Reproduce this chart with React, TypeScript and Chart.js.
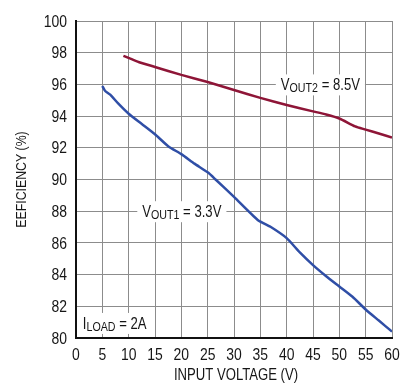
import React, { useEffect, useRef } from "react";
import { Chart, registerables } from "chart.js";

Chart.register(...registerables);

const vout1X = [5, 5.5, 6.5, 8, 10, 12.5, 15, 17.5, 20, 22.5, 25, 26.5, 30, 34.5, 37, 40, 42.5, 45, 47.5, 50, 52.5, 55, 57.5, 60];
const vout1Y = [95.9, 95.6, 95.35, 94.8, 94.15, 93.5, 92.85, 92.1, 91.6, 91.0, 90.45, 90.0, 88.9, 87.45, 87.0, 86.3, 85.4, 84.6, 83.9, 83.25, 82.6, 81.8, 81.1, 80.4];
const vout2X = [9, 12, 15, 20, 25, 30, 35, 40, 45, 47.5, 50, 53, 55, 57.5, 60];
const vout2Y = [97.8, 97.4, 97.1, 96.6, 96.15, 95.65, 95.15, 94.7, 94.3, 94.1, 93.85, 93.35, 93.15, 92.9, 92.65];

const xTicks = [0, 5, 10, 15, 20, 25, 30, 35, 40, 45, 50, 55, 60];
const yTicks = [80, 82, 84, 86, 88, 90, 92, 94, 96, 98, 100];

const xTitle = "INPUT VOLTAGE (V)";
const yTitle = "EEFICIENCY (%)";

// annotation labels: [main, sub, rest, anchor x, anchor y, align]
const labels: [string, string, string, number, number, string][] = [
  ["V", "OUT1", " = 3.3V", 20.1, 88, "center"],
  ["V", "OUT2", " = 8.5V", 46.4, 96, "center"],
  ["I", "LOAD", " = 2A", 1.3, 80.95, "left"],
];

const FONT = '"Liberation Sans", Arial, sans-serif';
const SX = 0.82; // horizontal condensing to mimic a narrow face
const INK = "#161616";

function condensed(ctx: any, text: string, x: number, y: number, font: string, align: string, baseline: string) {
  ctx.save();
  ctx.font = font;
  ctx.textAlign = align;
  ctx.textBaseline = baseline;
  ctx.translate(x, y);
  ctx.scale(SX, 1);
  ctx.fillText(text, 0, 0);
  ctx.restore();
}

const axisTextPlugin = {
  id: "axisText",
  afterDraw(chart: any) {
    const ctx = chart.ctx;
    const xs = chart.scales.x;
    const ys = chart.scales.y;
    const area = chart.chartArea;
    ctx.save();
    ctx.fillStyle = INK;
    const tickFont = `17px ${FONT}`;
    for (const v of xTicks) {
      condensed(ctx, String(v), xs.getPixelForValue(v), area.bottom + 17, tickFont, "center", "middle");
    }
    for (const v of yTicks) {
      condensed(ctx, String(v), area.left - 9, ys.getPixelForValue(v) + 1, tickFont, "right", "middle");
    }
    condensed(ctx, xTitle, (area.left + area.right) / 2 + 2, area.bottom + 38, `16px ${FONT}`, "center", "middle");
    ctx.save();
    ctx.translate(22, (area.top + area.bottom) / 2);
    ctx.rotate(-Math.PI / 2);
    condensed(ctx, yTitle, 0, 0, `15px ${FONT}`, "center", "middle");
    ctx.restore();
    ctx.restore();
  },
};

const labelPlugin = {
  id: "labels",
  afterDatasetsDraw(chart: any) {
    const ctx = chart.ctx;
    const xs = chart.scales.x;
    const ys = chart.scales.y;
    ctx.save();
    for (const [m, s, r, lx, ly, align] of labels) {
      const mainFont = `16px ${FONT}`;
      const subFont = `13px ${FONT}`;
      ctx.font = mainFont;
      const wm = ctx.measureText(m).width * SX;
      const wr = ctx.measureText(r).width * SX;
      ctx.font = subFont;
      const ws = ctx.measureText(s).width * SX;
      const total = wm + ws + wr;
      const px = xs.getPixelForValue(lx);
      const py = ys.getPixelForValue(ly);
      const left = align === "center" ? px - total / 2 : px;
      ctx.fillStyle = "#fff";
      ctx.fillRect(left - 5, py - 10, total + 10, 21);
      ctx.fillStyle = INK;
      const base = py + 6;
      condensed(ctx, m, left, base, mainFont, "left", "alphabetic");
      condensed(ctx, s, left + wm, base + 2, subFont, "left", "alphabetic");
      condensed(ctx, r, left + wm + ws, base, mainFont, "left", "alphabetic");
    }
    ctx.restore();
  },
};

export default function App() {
  const ref = useRef<HTMLCanvasElement>(null);
  useEffect(() => {
    if (!ref.current) return;
    const chart = new Chart(ref.current, {
      type: "line",
      data: {
        datasets: [
          {
            label: "VOUT2 = 8.5V",
            data: vout2X.map((x, i) => ({ x, y: vout2Y[i] })),
            borderColor: "#8e1537",
            borderWidth: 2.5,
            pointRadius: 0,
            tension: 0.2,
          },
          {
            label: "VOUT1 = 3.3V",
            data: vout1X.map((x, i) => ({ x, y: vout1Y[i] })),
            borderColor: "#2f4ea6",
            borderWidth: 2.5,
            pointRadius: 0,
            tension: 0.2,
          },
        ],
      },
      options: {
        animation: false,
        responsive: false,
        devicePixelRatio: 1,
        layout: { padding: { top: 21, right: 22, left: 0, bottom: 0 } },
        plugins: { legend: { display: false }, tooltip: { enabled: false } },
        scales: {
          x: {
            type: "linear",
            min: 0,
            max: 60,
            ticks: { stepSize: 5, display: false },
            grid: { color: "#8c8c8c", lineWidth: 1, drawTicks: false },
            border: { color: "#111", width: 2 },
            afterFit(scale: any) {
              scale.height = 47;
            },
          },
          y: {
            min: 80,
            max: 100,
            ticks: { stepSize: 2, display: false },
            grid: { color: "#8c8c8c", lineWidth: 1, drawTicks: false },
            border: { color: "#111", width: 2 },
            afterFit(scale: any) {
              scale.width = 76;
            },
          },
        },
      },
      plugins: [labelPlugin, axisTextPlugin],
    });
    return () => chart.destroy();
  }, []);
  return (
    <div style={{ position: "absolute", left: 0, top: 0, width: 414, height: 385, background: "#fff" }}>
      <canvas ref={ref} width={414} height={385} style={{ width: 414, height: 385 }} />
    </div>
  );
}
